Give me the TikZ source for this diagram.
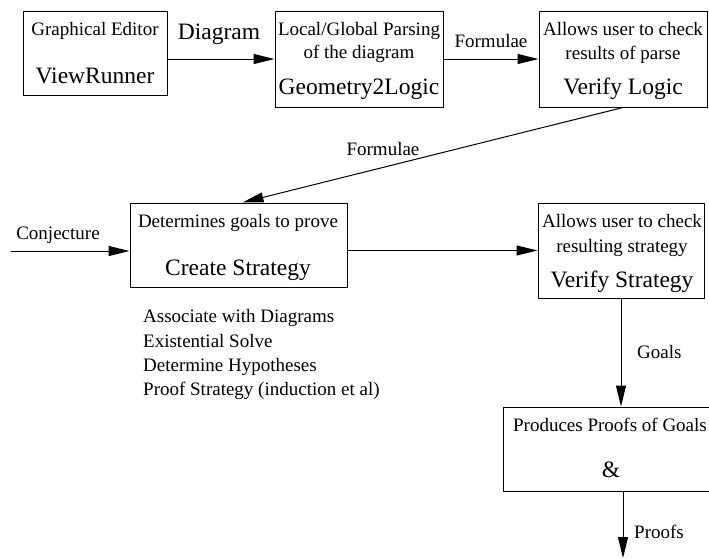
\documentclass[tikz,border=0pt]{standalone}
\usepackage{fontspec}
\setmainfont{Liberation Serif}
\usetikzlibrary{arrows.meta}
\begin{document}
\begin{tikzpicture}[x=1pt,y=-1pt,
  box/.style={draw, line width=1pt, rectangle, inner sep=0pt},
  sm/.style={anchor=base, inner sep=0pt, font=\fontsize{19}{22}\selectfont},
  bg/.style={anchor=base, inner sep=0pt, font=\fontsize{23.5}{27}\selectfont},
  arr/.style={line width=1pt, -{Triangle[length=21pt,width=10pt]}}]
\useasboundingbox (0,0) rectangle (709,558);
% boxes
\node[box, minimum width=144pt, minimum height=84pt] (vr) at (95,53) {};
\node[box, minimum width=168pt, minimum height=96pt] (gl) at (359,59) {};
\node[box, minimum width=168pt, minimum height=96pt] (vl) at (623,59) {};
\node[box, minimum width=217pt, minimum height=84pt] (cs) at (238.5,245) {};
\node[box, minimum width=166pt, minimum height=95pt] (vs) at (621,250.5) {};
\node[box, minimum width=240pt, minimum height=84pt] (pp) at (623,449) {};
% texts
\node[sm] (t1) at (95,35) {Graphical Editor};
\node[bg] (t2) at (95,83) {ViewRunner};
\node[sm] (t3) at (359,35) {Local/Global Parsing};
\node[sm] (t4) at (359,58) {of the diagram};
\node[bg] (t5) at (359,94) {Geometry2Logic};
\node[sm] (t6) at (623,35) {Allows user to check};
\node[sm] (t7) at (623,59) {results of parse};
\node[bg] (t8) at (623,94) {Verify Logic};
\node[sm] (t9) at (238,227) {Determines goals to prove};
\node[bg] (t10) at (238,275) {Create Strategy};
\node[sm] (t11) at (622,227) {Allows user to check};
\node[sm] (t12) at (622,252) {resulting strategy};
\node[bg] (t13) at (622,287) {Verify Strategy};
\node[sm] (t14) at (610,431) {Produces Proofs of Goals};
\node[bg] (t15) at (611,477) {\&};
\node[sm, anchor=base west] (l1) at (143,322) {Associate with Diagrams};
\node[sm, anchor=base west] (l2) at (143,347) {Existential Solve};
\node[sm, anchor=base west] (l3) at (143,371) {Determine Hypotheses};
\node[sm, anchor=base west] (l4) at (143,395) {Proof Strategy (induction et al)};
% connector labels
\node[bg] (d1) at (219,39) {Diagram};
\node[sm] (f1) at (491,47) {Formulae};
\node[sm] (f2) at (383,155) {Formulae};
\node[sm] (c1) at (58,239) {Conjecture};
\node[sm, anchor=base west] (g1) at (637,358) {Goals};
\node[sm, anchor=base west] (p1) at (634,538) {Proofs};
% connectors
\coordinate (cin) at (11,251);
\coordinate (pout) at (623,558);
\draw[arr] (vr.east |- gl.west) -- (gl.west);
\draw[arr] (gl.east) -- (vl.west);
\draw[arr] (vl.south) -- ([xshift=4pt]cs.north);
\draw[arr] (cin) -- (cs.west |- cin);
\draw[arr] (cs.east |- vs.west) -- (vs.west);
\draw[arr] (vs.south) -- (vs.south |- pp.north);
\draw[arr] (pp.south) -- (pout);
\end{tikzpicture}
\end{document}
